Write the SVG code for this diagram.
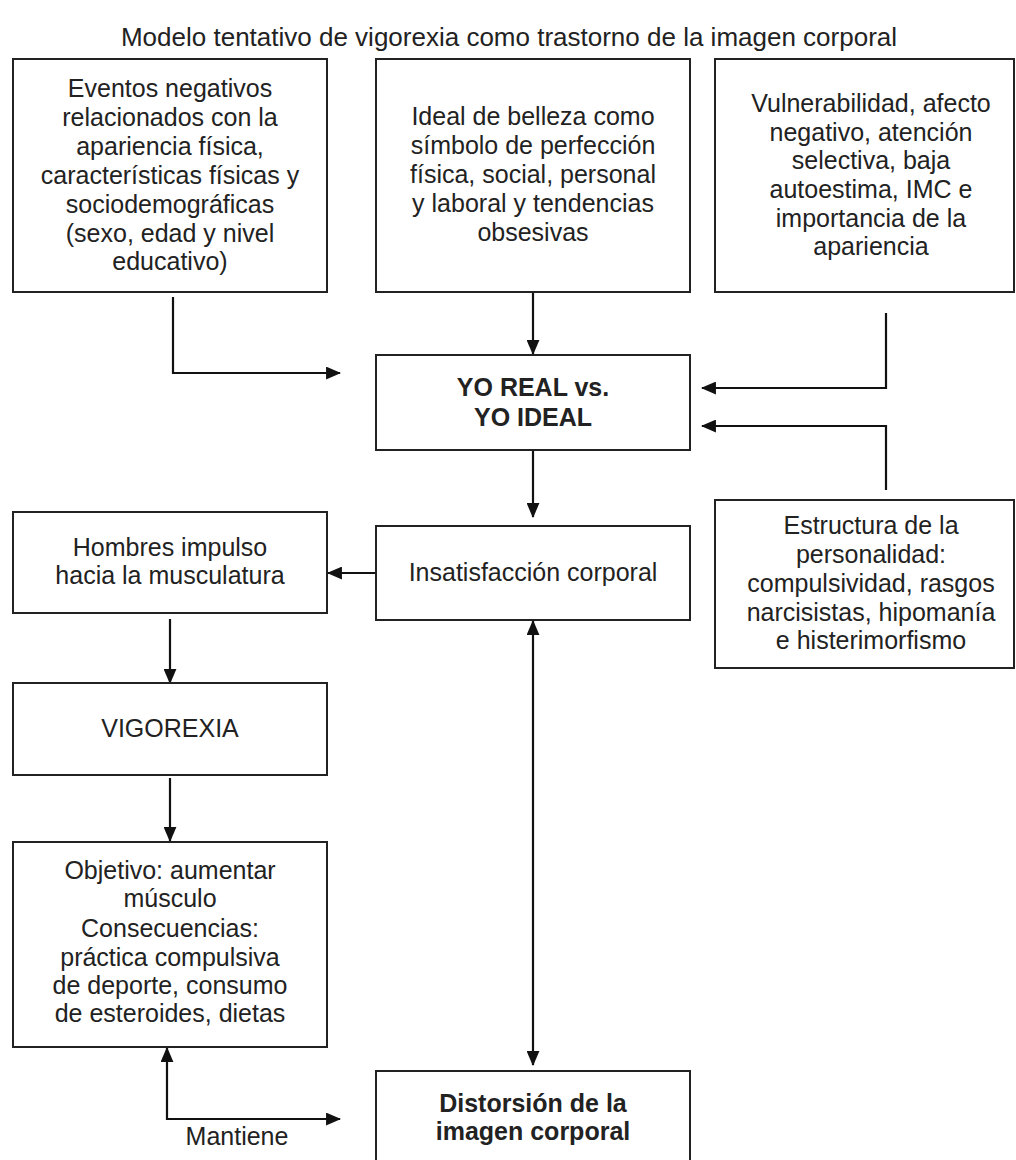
<svg xmlns="http://www.w3.org/2000/svg" width="1016" height="1160" viewBox="0 0 1016 1160">
<defs>
<marker id="ah" viewBox="0 0 14 12" refX="13" refY="6" markerWidth="15" markerHeight="13" markerUnits="userSpaceOnUse" orient="auto-start-reverse">
<path d="M0,0 L14,6 L0,12 z" fill="#111"/>
</marker>
<style>
.box{fill:#fff;stroke:#222;stroke-width:2}
.t{font-family:"Liberation Sans",Arial,sans-serif;font-size:25px;fill:#222;text-anchor:middle}
.h{font-size:26px}
.b{font-weight:bold}
.c{fill:none;stroke:#111;stroke-width:2.2;marker-end:url(#ah)}
.d{marker-start:url(#ah)}
</style>
</defs>
<rect width="1016" height="1160" fill="#fff"/>
<text class="t h" x="509" y="46">Modelo tentativo de vigorexia como trastorno de la imagen corporal</text>

<g id="connectors">
<path class="c" d="M173 297 V373 H340"/>
<path class="c" d="M533 292 V354"/>
<path class="c" d="M886 313 V388 H702"/>
<path class="c" d="M886 490 V426 H702"/>
<path class="c" d="M533 450 V517"/>
<path class="c" d="M376 573 H328"/>
<path class="c d" d="M533 621 V1065"/>
<path class="c" d="M170 619 V683"/>
<path class="c" d="M170 778 V841"/>
<path class="c d" d="M167 1048 V1119 H340"/>
</g>

<g id="eventos">
<rect class="box" x="13" y="59" width="314" height="233"/>
<text class="t" x="170" y="97">Eventos negativos</text>
<text class="t" x="170" y="126">relacionados con la</text>
<text class="t" x="170" y="155">apariencia física,</text>
<text class="t" x="170" y="184">características físicas y</text>
<text class="t" x="170" y="213">sociodemográficas</text>
<text class="t" x="170" y="242">(sexo, edad y nivel</text>
<text class="t" x="170" y="270">educativo)</text>
</g>

<g id="ideal">
<rect class="box" x="376" y="59" width="314" height="233"/>
<text class="t" x="533" y="125">Ideal de belleza como</text>
<text class="t" x="533" y="154">símbolo de perfección</text>
<text class="t" x="533" y="183">física, social, personal</text>
<text class="t" x="533" y="212">y laboral y tendencias</text>
<text class="t" x="533" y="241">obsesivas</text>
</g>

<g id="vulnerabilidad">
<rect class="box" x="715" y="59" width="299" height="233"/>
<text class="t" x="871" y="112">Vulnerabilidad, afecto</text>
<text class="t" x="871" y="141">negativo, atención</text>
<text class="t" x="871" y="169">selectiva, baja</text>
<text class="t" x="871" y="198">autoestima, IMC e</text>
<text class="t" x="871" y="227">importancia de la</text>
<text class="t" x="871" y="255">apariencia</text>
</g>

<g id="yo">
<rect class="box" x="376" y="355" width="314" height="95"/>
<text class="t b" x="533" y="396">YO REAL vs.</text>
<text class="t b" x="533" y="426">YO IDEAL</text>
</g>

<g id="insatisfaccion">
<rect class="box" x="376" y="526" width="314" height="94"/>
<text class="t" x="533" y="581">Insatisfacción corporal</text>
</g>

<g id="estructura">
<rect class="box" x="715" y="500" width="299" height="168"/>
<text class="t" x="871" y="534">Estructura de la</text>
<text class="t" x="871" y="563">personalidad:</text>
<text class="t" x="871" y="592">compulsividad, rasgos</text>
<text class="t" x="871" y="621">narcisistas, hipomanía</text>
<text class="t" x="871" y="649">e histerimorfismo</text>
</g>

<g id="hombres">
<rect class="box" x="13" y="512" width="314" height="101"/>
<text class="t" x="170" y="556">Hombres impulso</text>
<text class="t" x="170" y="584">hacia la musculatura</text>
</g>

<g id="vigorexia">
<rect class="box" x="13" y="683" width="314" height="92"/>
<text class="t" x="170" y="737">VIGOREXIA</text>
</g>

<g id="objetivo">
<rect class="box" x="13" y="842" width="314" height="205"/>
<text class="t" x="170" y="879">Objetivo: aumentar</text>
<text class="t" x="170" y="907">músculo</text>
<text class="t" x="170" y="937">Consecuencias:</text>
<text class="t" x="170" y="966">práctica compulsiva</text>
<text class="t" x="170" y="994">de deporte, consumo</text>
<text class="t" x="170" y="1022">de esteroides, dietas</text>
</g>

<g id="distorsion">
<rect class="box" x="376" y="1071" width="314" height="100"/>
<text class="t b" x="533" y="1112">Distorsión de la</text>
<text class="t b" x="533" y="1140">imagen corporal</text>
</g>

<text class="t" x="237" y="1145">Mantiene</text>
</svg>
